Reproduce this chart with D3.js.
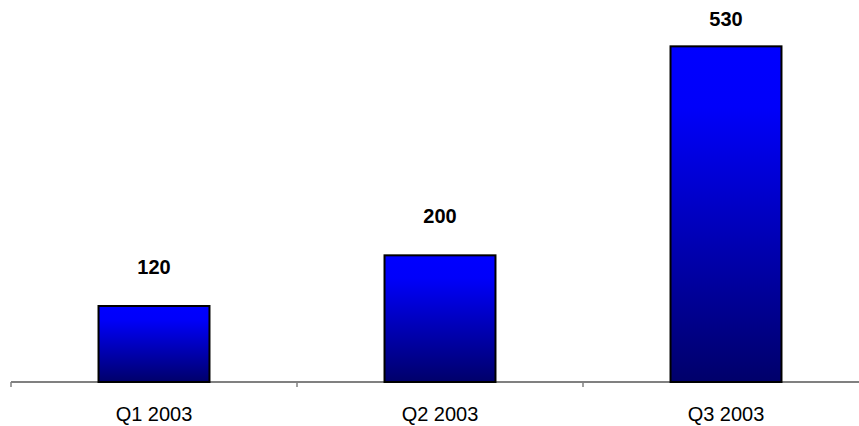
<!DOCTYPE html>
<html>
<head>
<meta charset="utf-8">
<script src="https://cdn.jsdelivr.net/npm/d3@7"></script>
<style>
  html, body { margin: 0; padding: 0; background: #fff; }
  svg { display: block; }
</style>
</head>
<body>
<svg id="chart" width="859" height="426"></svg>
<script>
// Quarterly totals
const categories = ["Q1 2003", "Q2 2003", "Q3 2003"];
const values = [120, 200, 530];
const yDomain = [0, 600];

const width = 859, height = 426;
const svg = d3.select("#chart");

const x = d3.scaleBand()
  .domain(categories)
  .range([11, 869])
  .paddingInner(0.612)
  .paddingOuter(0.306);

const y = d3.scaleLinear()
  .domain(yDomain)
  .range([382, 2]);

// Vertical gradient: bright blue at the top fading to navy at the base
const defs = svg.append("defs");
const grad = defs.append("linearGradient")
  .attr("id", "barFill")
  .attr("x1", 0).attr("y1", 0).attr("x2", 0).attr("y2", 1);
grad.append("stop").attr("offset", "0%").attr("stop-color", "#0000ff");
grad.append("stop").attr("offset", "18%").attr("stop-color", "#0000fa");
grad.append("stop").attr("offset", "100%").attr("stop-color", "#00006a");

// Category axis along the baseline
const axis = svg.append("g")
  .attr("transform", `translate(0,${y(0)})`);
axis.append("line")
  .attr("x1", x.range()[0]).attr("x2", x.range()[1])
  .attr("y1", 0).attr("y2", 0)
  .attr("stroke", "#808080").attr("stroke-width", 2);
const step = x.step();
const tickXs = d3.range(categories.length + 1).map(i => x.range()[0] + i * step);
axis.selectAll("line.tick")
  .data(tickXs)
  .join("line")
  .attr("class", "tick")
  .attr("x1", d => d).attr("x2", d => d)
  .attr("y1", 0).attr("y2", 5)
  .attr("stroke", "#808080").attr("stroke-width", 1.5);

axis.selectAll("text.cat")
  .data(categories)
  .join("text")
  .attr("class", "cat")
  .attr("x", d => x(d) + x.bandwidth() / 2)
  .attr("y", 39)
  .attr("text-anchor", "middle")
  .attr("font-family", "'Liberation Sans', Arial, sans-serif")
  .attr("font-size", 20)
  .attr("fill", "#000")
  .text(d => d);

// Bars
const data = categories.map((c, i) => ({ c, v: values[i] }));
svg.selectAll("rect.bar")
  .data(data)
  .join("rect")
  .attr("class", "bar")
  .attr("x", d => x(d.c))
  .attr("y", d => y(d.v))
  .attr("width", x.bandwidth())
  .attr("height", d => y(0) - y(d.v))
  .attr("fill", "url(#barFill)")
  .attr("stroke", "#000")
  .attr("stroke-width", 2);

// Value labels above the bars, kept inside the top of the plot
svg.selectAll("text.val")
  .data(data)
  .join("text")
  .attr("class", "val")
  .attr("x", d => x(d.c) + x.bandwidth() / 2)
  .attr("y", d => Math.max(y(d.v) - 32, 26))
  .attr("text-anchor", "middle")
  .attr("font-family", "'Liberation Sans', Arial, sans-serif")
  .attr("font-size", 20)
  .attr("font-weight", "bold")
  .attr("fill", "#000")
  .text(d => d.v);
</script>
</body>
</html>
